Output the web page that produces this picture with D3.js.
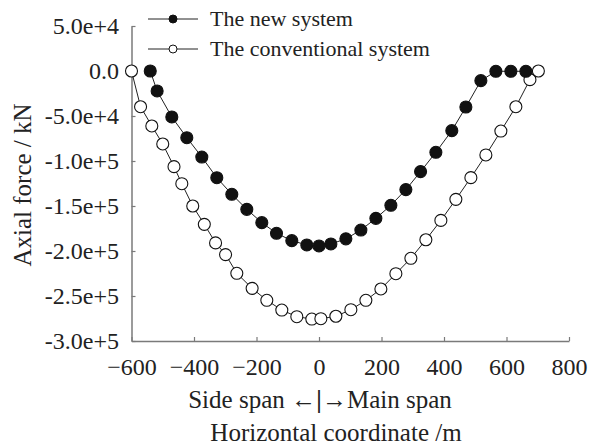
<!DOCTYPE html>
<html>
<head>
<meta charset="utf-8">
<script src="https://cdn.jsdelivr.net/npm/d3@7"></script>
<style>
  html, body { margin: 0; padding: 0; background: #fff; }
  svg { display: block; }
</style>
</head>
<body>
<svg id="chart" width="590" height="447"></svg>
<script>
// ---- data ----
const seriesNames = ["The new system", "The conventional system"];
const newX = [-540, -518, -471, -423, -375, -327, -279, -231, -183, -136, -87, -39, 0, 38, 86, 134, 182, 230, 278, 325, 374, 425, 470, 518, 566, 614, 662];
const newY = [0, -22200, -51100, -74100, -95600, -118600, -137000, -153700, -168500, -180300, -188500, -193300, -194400, -192200, -186500, -176700, -163700, -149200, -131800, -111800, -90300, -66300, -40000, -10700, -300, -300, -300];
const convX = [-600, -571, -535, -500, -464, -439, -404, -367, -331, -299, -263, -214, -167, -119, -71, -23, 6, 54, 102, 150, 198, 246, 294, 342, 390, 438, 486, 534, 582, 630, 675, 702];
const convY = [0, -39700, -61100, -81100, -106300, -125200, -150000, -170400, -191000, -204000, -224800, -241500, -254800, -265600, -273000, -275600, -275200, -272500, -265200, -254800, -242200, -225200, -208100, -187500, -166000, -142600, -118500, -93300, -66700, -39700, -9600, 0];
const xTicks = [-600, -400, -200, 0, 200, 400, 600, 800];
const yTicks = [50000, 0, -50000, -100000, -150000, -200000, -250000, -300000];
const yTickLabels = ["5.0e+4", "0.0", "-5.0e+4", "-1.0e+5", "-1.5e+5", "-2.0e+5", "-2.5e+5", "-3.0e+5"];
const yTitle = "Axial force / kN";
const xTitle1a = "Side span \u2190", xTitle1b = "|", xTitle1c = "\u2192Main span";
const xTitle2 = "Horizontal coordinate /m";

// ---- layout ----
const FONT = "'Liberation Serif', 'Times New Roman', Times, serif";
const svg = d3.select("#chart");
const x = d3.scaleLinear().domain([-600, 800]).range([131.5, 569]);
const y = d3.scaleLinear().domain([-300000, 50000]).range([341, 26]);
const axisColor = "#7a7a7a";
const fs = 24;

// axes
const gx = svg.append("g").attr("transform", "translate(0,341)")
  .call(d3.axisBottom(x).tickValues(xTicks).tickSizeInner(-4).tickSizeOuter(0).tickPadding(17).tickFormat(d3.format("d")));
const gy = svg.append("g").attr("transform", "translate(131.5,0)")
  .call(d3.axisLeft(y).tickValues(yTicks).tickSizeInner(-4).tickSizeOuter(0).tickPadding(12.5)
    .tickFormat((d, i) => yTickLabels[i]));
[gx, gy].forEach(g => {
  g.attr("font-family", null).attr("font-size", null);
  g.selectAll("path.domain").attr("stroke", axisColor).attr("stroke-width", 1.5);
  g.selectAll(".tick line").attr("stroke", axisColor).attr("stroke-width", 1.2);
  g.selectAll(".tick text").style("font-size", fs + "px");
});

// lines & markers
const line = d3.line().x(d => x(d[0])).y(d => y(d[1]));
const newData = newX.map((v, i) => [v, newY[i]]);
const convData = convX.map((v, i) => [v, convY[i]]);

function drawSeries(data, filled) {
  svg.append("path").datum(data).attr("d", line)
    .attr("fill", "none").attr("stroke", "#222").attr("stroke-width", 1);
  svg.append("g").selectAll("circle").data(data).join("circle")
    .attr("cx", d => x(d[0])).attr("cy", d => y(d[1])).attr("r", 6)
    .attr("fill", filled ? "#111" : "#fff")
    .attr("stroke", "#111").attr("stroke-width", 1.1);
}
drawSeries(convData, false);
drawSeries(newData, true);

// legend
const legY = [19, 49];
seriesNames.forEach((name, i) => {
  const g = svg.append("g");
  g.append("line").attr("x1", 148).attr("x2", 198).attr("y1", legY[i]).attr("y2", legY[i])
    .attr("stroke", "#222").attr("stroke-width", 1);
  g.append("circle").attr("cx", 173).attr("cy", legY[i]).attr("r", 4)
    .attr("fill", i === 0 ? "#111" : "#fff").attr("stroke", "#111").attr("stroke-width", 1);
  g.append("text").attr("x", 210).attr("y", legY[i]).attr("dy", "0.33em")
    .style("font-size", "22px").text(name);
});

// axis titles
svg.append("text").attr("transform", "translate(22,185) rotate(-90)")
  .attr("text-anchor", "middle").attr("dy", "0.35em").style("font-size", "25px").text(yTitle);

const x0 = x(0);
svg.append("text").attr("x", x0 - 3).attr("y", 408).attr("text-anchor", "end").style("font-size", "25px").text(xTitle1a);
svg.append("text").attr("x", x0).attr("y", 408).attr("text-anchor", "middle").style("font-size", "25px")
  .style("font-weight", "bold").text(xTitle1b);
svg.append("text").attr("x", x0 + 3).attr("y", 408).attr("text-anchor", "start").style("font-size", "25px").text(xTitle1c);
svg.append("text").attr("x", 336).attr("y", 441).attr("text-anchor", "middle").style("font-size", "25px").text(xTitle2);

svg.selectAll("text").style("font-family", FONT).style("fill", "#222");
</script>
</body>
</html>
